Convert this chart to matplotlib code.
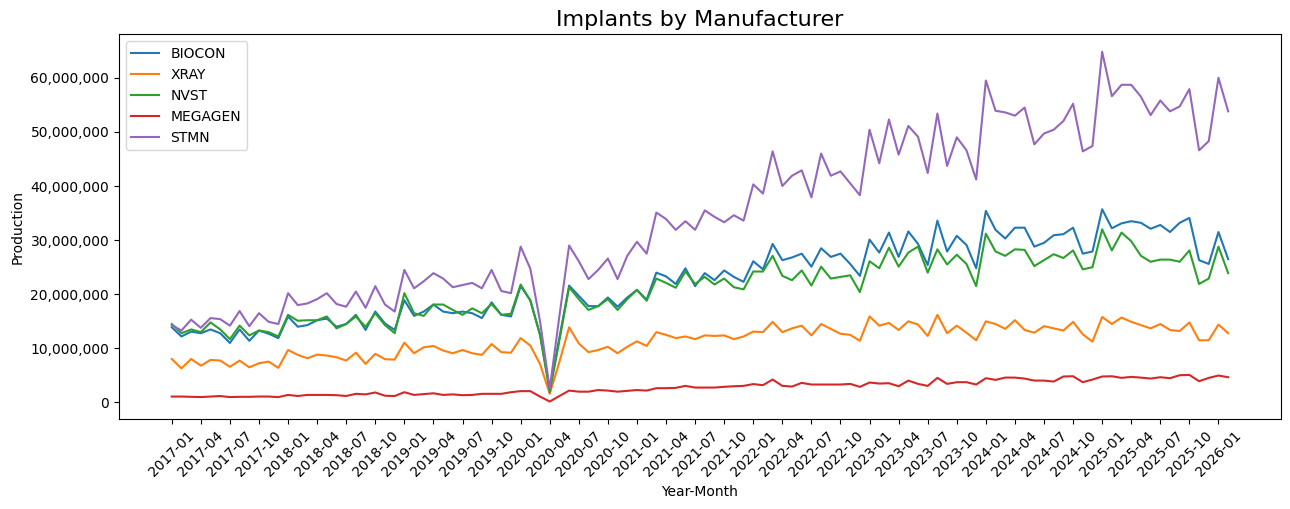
import matplotlib
matplotlib.use("Agg")
import matplotlib.pyplot as plt
from matplotlib.ticker import FuncFormatter

months = [f"{y}-{m:02d}" for y in range(2017, 2027) for m in range(1, 13)][:110]

biocon = [13.9,12.2,13.1,12.8,13.5,12.8,11.0,13.5,11.4,13.3,12.7,11.9,15.9,14.0,14.3,15.2,15.5,14.0,14.5,16.2,13.4,16.8,14.6,13.4,18.9,16.0,16.8,18.1,16.8,16.5,
          16.8,16.5,15.6,18.5,16.2,15.9,21.5,18.9,12.5,2.5,12.0,21.6,19.7,17.8,17.8,19.4,17.7,19.4,20.8,19.0,24.0,23.3,21.9,24.8,21.5,23.9,22.6,24.4,23.2,22.3,26.1,24.6,
          29.3,26.3,26.8,27.5,25.1,28.5,26.9,27.5,25.6,23.4,30.1,27.7,31.4,26.9,31.6,29.3,25.4,33.6,27.9,30.8,29.1,24.8,35.4,31.9,30.3,32.3,32.3,28.8,29.5,30.9,31.1,32.3,
          27.5,27.9,35.7,32.2,33.1,33.5,33.2,32.1,32.8,31.5,33.2,34.1,26.3,25.6,31.5,26.5]
xray = [8.05,6.3,8.05,6.8,7.87,7.75,6.6,7.75,6.5,7.25,7.56,6.4,9.7,8.8,8.17,8.85,8.67,8.36,7.75,9.2,7.13,9.0,8.0,7.93,11.06,9.1,10.2,10.45,9.6,9.1,
        9.7,9.1,8.8,10.8,9.3,9.2,11.9,10.5,7.1,1.6,7.5,13.9,10.9,9.3,9.7,10.3,9.1,10.3,11.3,10.45,13.0,12.5,11.9,12.2,11.7,12.4,12.3,12.4,11.7,12.2,13.1,13.0,
        14.9,13.0,13.7,14.2,12.4,14.5,13.6,12.7,12.5,11.4,15.9,14.2,14.7,13.4,15.0,14.4,12.3,16.2,12.8,14.2,12.9,11.5,15.0,14.5,13.6,15.2,13.4,12.9,14.1,13.7,13.3,14.9,
        12.6,11.25,15.8,14.5,15.7,14.9,14.3,13.7,14.5,13.4,13.2,14.8,11.5,11.5,14.4,12.8]
nvst = [14.5,12.8,13.5,13.0,14.8,13.5,11.7,14.2,12.4,13.3,13.0,12.2,16.2,15.1,15.2,15.2,15.9,13.7,14.5,15.9,14.0,16.5,14.3,12.8,20.2,16.5,16.0,18.1,18.1,17.1,
        16.2,17.4,16.5,18.2,16.2,16.4,21.8,18.8,12.5,1.9,11.5,21.3,19.1,17.1,17.8,19.1,17.1,19.1,20.8,18.8,22.9,22.1,21.2,24.2,21.9,23.2,21.8,22.9,21.3,20.9,24.2,24.2,
        27.1,23.4,22.6,24.4,21.6,25.1,22.9,23.2,23.5,20.4,26.1,24.8,28.6,25.1,27.7,28.8,24.0,28.3,25.5,27.3,25.6,21.5,31.2,27.9,27.1,28.3,28.2,25.2,26.3,27.4,26.7,28.1,
        24.6,25.0,32.0,28.1,31.4,29.8,27.1,26.0,26.4,26.4,26.0,28.1,21.9,22.9,28.8,23.9]
megagen = [1.1,1.1,1.05,1.0,1.1,1.2,1.0,1.05,1.05,1.1,1.1,1.0,1.4,1.2,1.4,1.4,1.4,1.35,1.2,1.6,1.5,1.85,1.25,1.2,1.9,1.4,1.55,1.7,1.4,1.5,
           1.35,1.4,1.6,1.6,1.6,1.9,2.1,2.1,1.1,0.18,1.2,2.2,2.0,2.0,2.3,2.2,2.0,2.15,2.3,2.2,2.64,2.64,2.7,3.07,2.76,2.76,2.76,2.9,3.0,3.07,3.4,3.2,
           4.24,3.07,2.95,3.63,3.32,3.32,3.32,3.32,3.44,2.89,3.69,3.5,3.56,3.0,4.05,3.44,3.07,4.55,3.44,3.75,3.75,3.32,4.49,4.18,4.6,4.6,4.42,4.05,4.05,3.87,4.8,4.85,
           3.75,4.24,4.8,4.85,4.55,4.73,4.6,4.42,4.67,4.49,5.04,5.1,3.93,4.55,4.98,4.67]
stmn = [14.3,13.3,15.3,13.8,15.6,15.4,14.2,16.9,14.1,16.5,14.9,14.5,20.2,18.0,18.3,19.1,20.2,18.2,17.7,20.5,17.5,21.5,18.1,16.8,24.5,21.1,22.4,23.9,22.9,21.3,
        21.7,22.1,21.1,24.5,20.6,20.2,28.8,24.7,15.0,2.5,16.0,29.0,26.1,22.8,24.5,26.6,22.8,27.1,29.7,27.5,35.1,33.9,31.9,33.5,31.9,35.5,34.3,33.3,34.6,33.6,40.3,38.6,
        46.4,40.0,41.9,42.9,37.9,46.0,41.9,42.7,40.5,38.3,50.4,44.2,52.3,45.8,51.1,49.1,42.4,53.4,43.7,49.0,46.6,41.2,59.5,53.9,53.6,53.0,54.5,47.7,49.7,50.4,52.0,55.2,
        46.4,47.4,64.8,56.6,58.7,58.7,56.5,53.1,55.8,53.8,54.7,57.9,46.6,48.3,60.0,53.8]

series = {"BIOCON": biocon, "XRAY": xray, "NVST": nvst, "MEGAGEN": megagen, "STMN": stmn}

fig = plt.figure(figsize=(12.9, 5.09), dpi=100)
ax = fig.add_axes([0.0922, 0.1768, 0.9008, 0.7558])
x = list(range(len(months)))
for name, vals in series.items():
    ax.plot(x, [v * 1e6 for v in vals], label=name)

ax.set_xticks(x[::3])
ax.set_xticklabels(months[::3], rotation=45)
ax.yaxis.set_major_formatter(FuncFormatter(lambda v, p: f"{v:,.0f}"))
ax.set_title("Implants by Manufacturer", fontsize=16)
ax.set_xlabel("Year-Month")
ax.set_ylabel("Production")
ax.legend(loc="upper left")
fig.savefig("out.png", dpi=100)
